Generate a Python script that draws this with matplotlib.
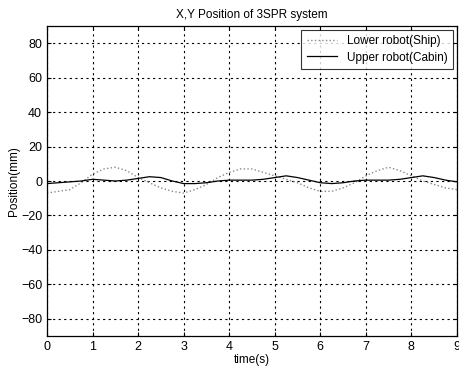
import matplotlib
matplotlib.use("Agg")
import matplotlib.pyplot as plt

plt.rcParams['font.family'] = ['Liberation Sans', 'DejaVu Sans']

time_s = [0, 0.25, 0.5, 0.75, 1.0, 1.25, 1.5, 1.75, 2.0, 2.25, 2.5, 2.75, 3.0,
          3.25, 3.5, 3.75, 4.0, 4.25, 4.5, 4.75, 5.0, 5.25, 5.5, 5.75, 6.0,
          6.25, 6.5, 6.75, 7.0, 7.25, 7.5, 7.75, 8.0, 8.25, 8.5, 8.75, 9.0]
lower_ship = [-7, -6, -5, -1, 4, 7, 8, 6, 2, -1, -4, -6, -7,
              -5, -2, 2, 5, 7, 7, 5, 3, 1, -1, -4, -6,
              -6, -4, -1, 3, 6, 8, 6, 3, 0, -2, -4, -5]
upper_cabin = [-1.5, -1, -0.5, 0, 1, 0.5, 0, 0.5, 1.5, 2.5, 2, 0, -1.5,
               -1.5, -1, 0, 0.5, 0.5, 0.5, 1, 2, 3, 2, 0.5, -1,
               -1.5, -1, 0, 0.5, 0.5, 0.5, 1, 2, 3, 2, 0.5, -0.5]
xticks = list(range(0, 10))
yticks = list(range(-80, 81, 20))

fig = plt.figure(figsize=(4.59, 3.70), dpi=100)
ax = fig.add_axes([0.1024, 0.0919, 0.8932, 0.8378])
ax.plot(time_s, lower_ship, linestyle=':', color='#888888', linewidth=1.0,
        label='Lower robot(Ship)')
ax.plot(time_s, upper_cabin, linestyle='-', color='black', linewidth=0.9,
        label='Upper robot(Cabin)')
ax.set_xlim(0, 9)
ax.set_ylim(-90, 90)
ax.set_xticks(xticks)
ax.set_yticks(yticks)
ax.tick_params(direction='in', labelsize=9, length=3, colors='black',
               top=True, right=True)
ax.grid(True, linestyle=(0, (2, 3)), color='black', linewidth=0.8)
for s in ax.spines.values():
    s.set_linewidth(0.9)
ax.set_title('X,Y Position of 3SPR system', fontsize=8.5, pad=6)
ax.set_xlabel('time(s)', fontsize=8.5, labelpad=1)
ax.set_ylabel('Position(mm)', fontsize=8.5, labelpad=1)
leg = ax.legend(loc='upper right', fontsize=8.5, frameon=True, fancybox=False,
                edgecolor='black', borderaxespad=0.35, handlelength=2.6,
                borderpad=0.45, labelspacing=0.35)
leg.get_frame().set_linewidth(0.8)
fig.savefig('out.png', dpi=100, facecolor='white')
